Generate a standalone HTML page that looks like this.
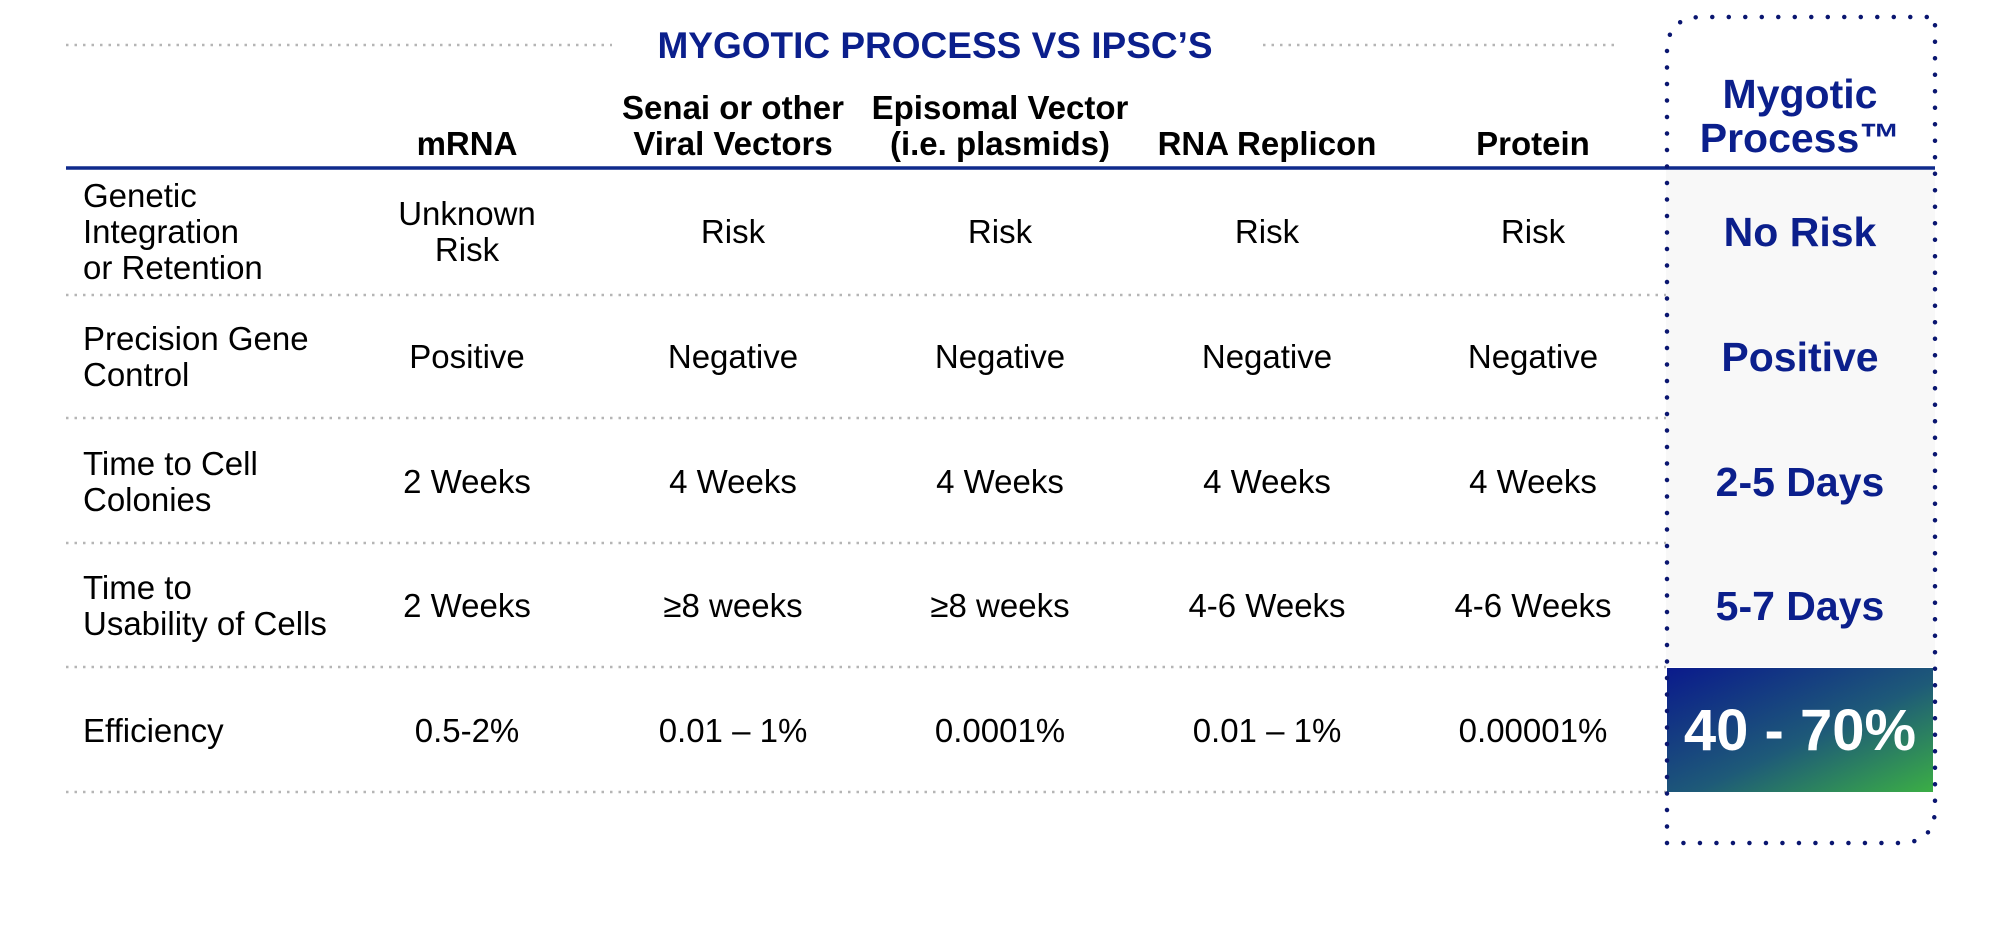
<!DOCTYPE html>
<html><head><meta charset="utf-8"><style>
html,body{margin:0;padding:0;background:#fff;width:2000px;height:939px;overflow:hidden}
svg{display:block}
text{font-family:"Liberation Sans",Arial,sans-serif}
.h{font-weight:bold;font-size:33px;fill:#000;text-anchor:middle}
.b{font-size:33px;fill:#000;text-anchor:middle}
.l{font-size:33px;fill:#000}
.m{font-weight:bold;font-size:41px;fill:#0b1f8c;text-anchor:middle}
.g{stroke:#b5b5b5;stroke-width:2.5;stroke-dasharray:2.5 6}
</style></head><body>
<svg width="2000" height="939" viewBox="0 0 2000 939" xmlns="http://www.w3.org/2000/svg">
<defs>
<linearGradient id="gr" x1="0" y1="0" x2="1" y2="1">
<stop offset="0" stop-color="#0a1a8c"/><stop offset="0.55" stop-color="#1e5a78"/><stop offset="1" stop-color="#3bae45"/>
</linearGradient>
</defs>
<rect x="1666" y="170" width="269" height="497" fill="#f8f8f8"/>
<line class="g" x1="66" y1="45" x2="612" y2="45"/>
<line class="g" x1="1263" y1="45" x2="1620" y2="45"/>
<text x="935" y="58" font-size="37" font-weight="bold" fill="#0b1f8c" text-anchor="middle">MYGOTIC PROCESS VS IPSC’S</text>

<text class="h" x="467" y="155">mRNA</text>
<text class="h" x="733" y="119">Senai or other</text>
<text class="h" x="733" y="155">Viral Vectors</text>
<text class="h" x="1000" y="119">Episomal Vector</text>
<text class="h" x="1000" y="155">(i.e. plasmids)</text>
<text class="h" x="1267" y="155">RNA Replicon</text>
<text class="h" x="1533" y="155">Protein</text>
<text class="m" x="1800" y="108">Mygotic</text>
<text class="m" x="1800" y="152">Process™</text>

<line x1="66" y1="168" x2="1935" y2="168" stroke="#0f2a8c" stroke-width="3.5"/>

<line class="g" x1="66" y1="295" x2="1666" y2="295"/>
<line class="g" x1="66" y1="418" x2="1666" y2="418"/>
<line class="g" x1="66" y1="543" x2="1666" y2="543"/>
<line class="g" x1="66" y1="667" x2="1666" y2="667"/>
<line class="g" x1="66" y1="792" x2="1666" y2="792"/>

<text class="l" x="83" y="207">Genetic</text>
<text class="l" x="83" y="243">Integration</text>
<text class="l" x="83" y="279">or Retention</text>
<text class="b" x="467" y="225">Unknown</text>
<text class="b" x="467" y="261">Risk</text>
<text class="b" x="733" y="243">Risk</text>
<text class="b" x="1000" y="243">Risk</text>
<text class="b" x="1267" y="243">Risk</text>
<text class="b" x="1533" y="243">Risk</text>
<text class="m" x="1800" y="246">No Risk</text>

<text class="l" x="83" y="350">Precision Gene</text>
<text class="l" x="83" y="386">Control</text>
<text class="b" x="467" y="368">Positive</text>
<text class="b" x="733" y="368">Negative</text>
<text class="b" x="1000" y="368">Negative</text>
<text class="b" x="1267" y="368">Negative</text>
<text class="b" x="1533" y="368">Negative</text>
<text class="m" x="1800" y="371">Positive</text>

<text class="l" x="83" y="475">Time to Cell</text>
<text class="l" x="83" y="511">Colonies</text>
<text class="b" x="467" y="493">2 Weeks</text>
<text class="b" x="733" y="493">4 Weeks</text>
<text class="b" x="1000" y="493">4 Weeks</text>
<text class="b" x="1267" y="493">4 Weeks</text>
<text class="b" x="1533" y="493">4 Weeks</text>
<text class="m" x="1800" y="496">2-5 Days</text>

<text class="l" x="83" y="599">Time to</text>
<text class="l" x="83" y="635">Usability of Cells</text>
<text class="b" x="467" y="617">2 Weeks</text>
<text class="b" x="733" y="617">≥8 weeks</text>
<text class="b" x="1000" y="617">≥8 weeks</text>
<text class="b" x="1267" y="617">4-6 Weeks</text>
<text class="b" x="1533" y="617">4-6 Weeks</text>
<text class="m" x="1800" y="620">5-7 Days</text>

<text class="l" x="83" y="742">Efficiency</text>
<text class="b" x="467" y="742">0.5-2%</text>
<text class="b" x="733" y="742">0.01 – 1%</text>
<text class="b" x="1000" y="742">0.0001%</text>
<text class="b" x="1267" y="742">0.01 – 1%</text>
<text class="b" x="1533" y="742">0.00001%</text>

<rect x="1667" y="668" width="266" height="124" fill="url(#gr)"/>
<text x="1800" y="750" font-size="58" font-weight="bold" fill="#fff" text-anchor="middle">40 - 70%</text>

<path d="M1667,843 L1667,52 Q1667,17 1702,17 L1935,17 L1935,808 Q1935,843 1900,843 Z" fill="none" stroke="#0a1670" stroke-width="4.5" stroke-linecap="round" stroke-dasharray="0 16.5"/>
</svg>
</body></html>
